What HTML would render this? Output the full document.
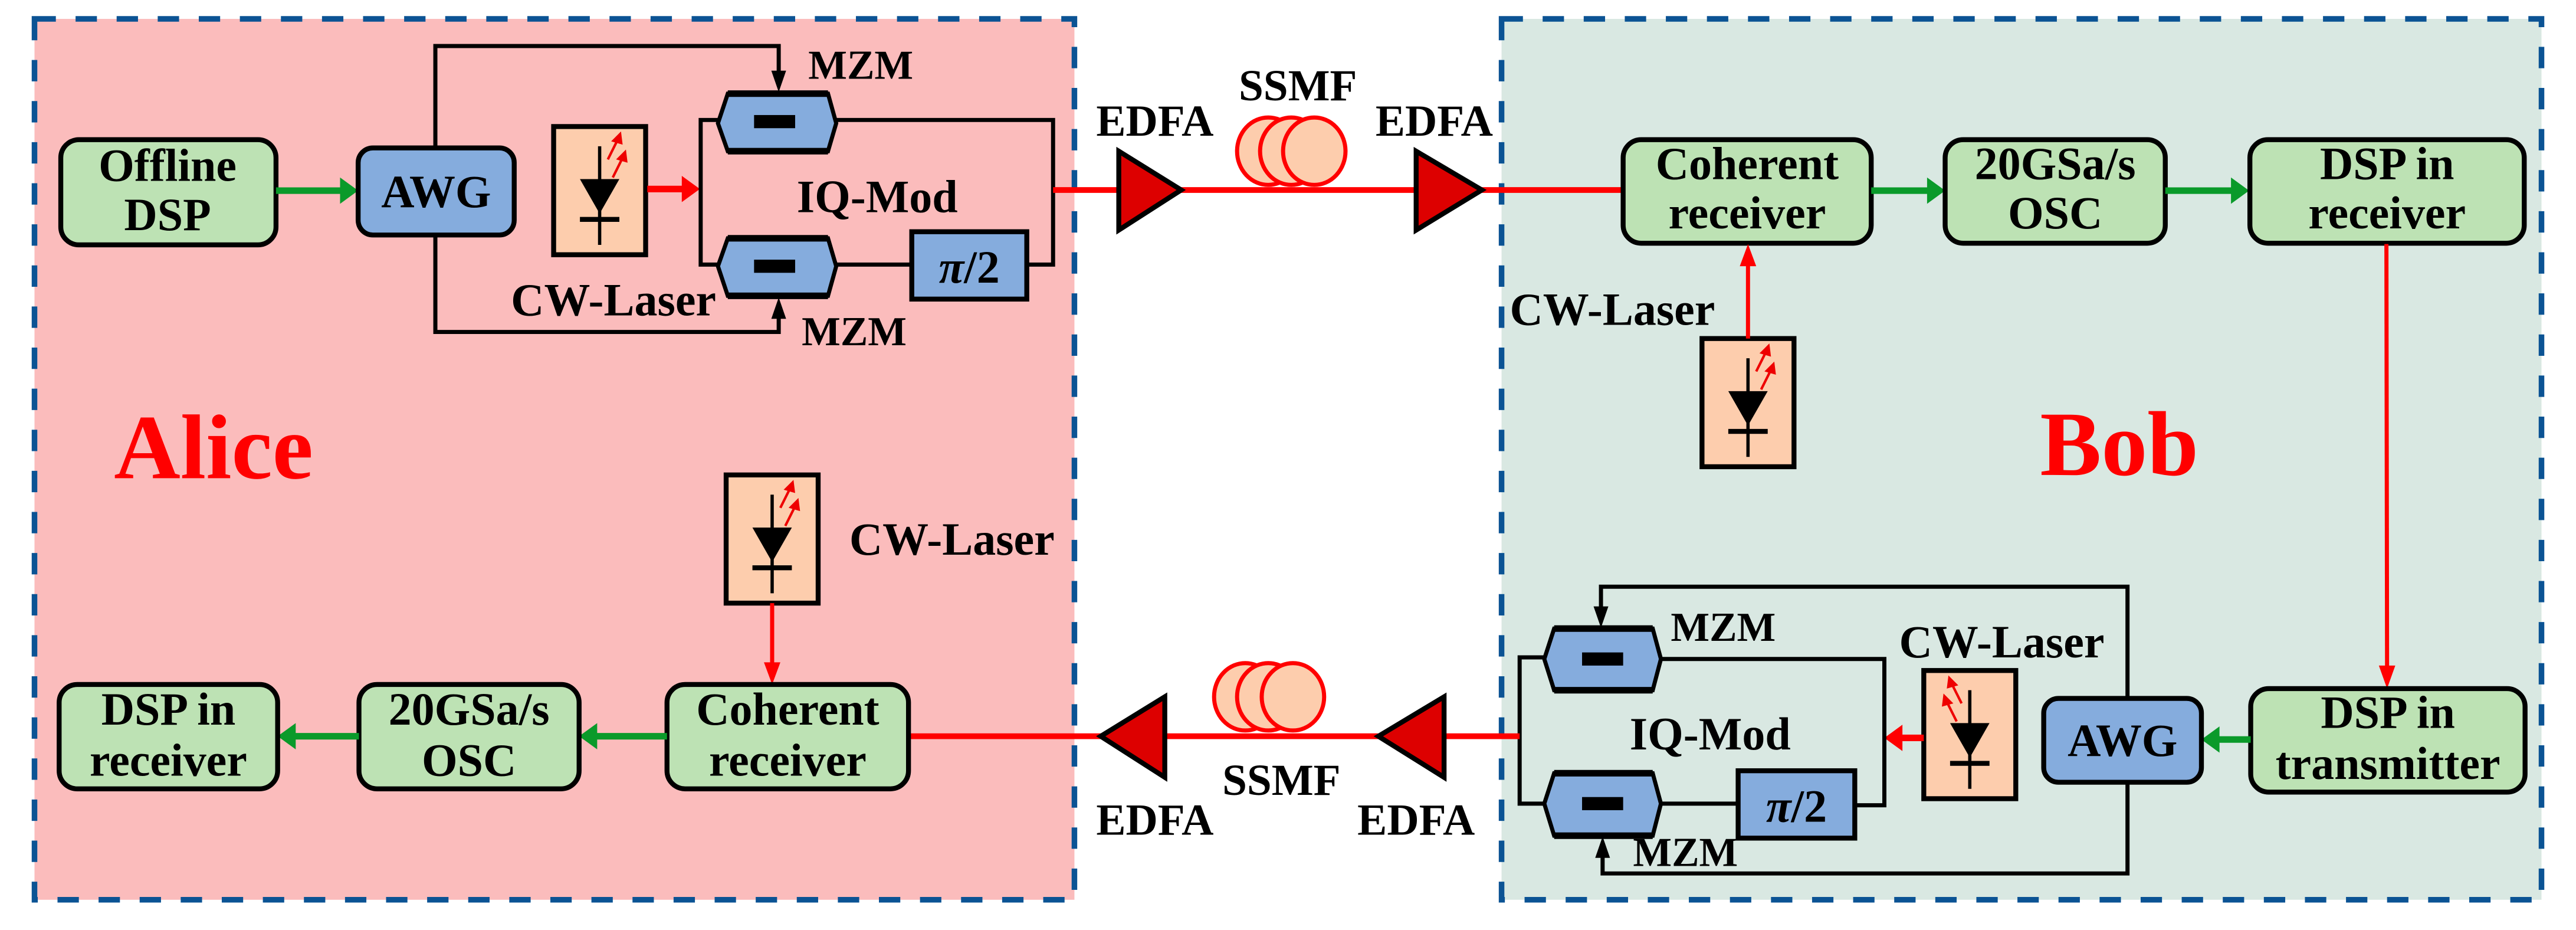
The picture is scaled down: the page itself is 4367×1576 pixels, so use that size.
<!DOCTYPE html>
<html><head><meta charset="utf-8"><style>
html,body{margin:0;padding:0;background:#fff;}
svg{display:block;}
text{font-family:"Liberation Serif",serif;font-weight:bold;}
</style></head><body>
<svg width="4367" height="1576" viewBox="0 0 1568 565.9" preserveAspectRatio="none" xmlns="http://www.w3.org/2000/svg">
<defs>
<g id="laser">
<rect x="0" y="0" width="56" height="78" fill="#fdcdad" stroke="#000" stroke-width="3"/>
<line x1="28" y1="12" x2="28" y2="72" stroke="#000" stroke-width="2"/>
<polygon points="16,32 40,32 28,53" fill="#000"/>
<rect x="16" y="55" width="24" height="3" fill="#000"/>
<line x1="33" y1="20" x2="39" y2="8" stroke="#e00" stroke-width="1.5"/>
<polygon points="41,3 35,9 42,11" fill="#e00"/>
<line x1="36" y1="31" x2="42" y2="19" stroke="#e00" stroke-width="1.5"/>
<polygon points="44,14 38,20 45,22" fill="#e00"/>
</g>
</defs>
<rect width="1568" height="566" fill="#fff"/>
<!-- Alice & Bob regions -->
<rect x="21" y="11.5" width="633" height="536" fill="#fbbcbc" stroke="#0b5394" stroke-width="3.4" stroke-dasharray="13,12"/>
<rect x="914" y="11.5" width="633" height="536" fill="#d9e8e2" stroke="#0b5394" stroke-width="3.4" stroke-dasharray="13,12"/>

<text x="130" y="291" font-size="56" fill="#f00" text-anchor="middle">Alice</text>
<text x="1290" y="289" font-size="56" fill="#f00" text-anchor="middle">Bob</text>

<!-- ===== Alice top ===== -->
<rect x="37" y="85" width="131" height="64" rx="11" fill="#bde2b4" stroke="#000" stroke-width="3"/>
<text x="102" y="110" font-size="28" text-anchor="middle">Offline</text>
<text x="102" y="140" font-size="28" text-anchor="middle">DSP</text>
<line x1="168" y1="116" x2="209" y2="116" stroke="#0a9a2a" stroke-width="4"/>
<polygon points="218,116 207,108 207,124" fill="#0a9a2a"/>
<rect x="218" y="90" width="95" height="53" rx="9" fill="#85acdd" stroke="#000" stroke-width="3"/>
<text x="265.5" y="126" font-size="28" text-anchor="middle">AWG</text>
<!-- AWG lines -->
<polyline points="265,90 265,28 474,28 474,45" fill="none" stroke="#000" stroke-width="2.5"/>
<polygon points="474,56 469.5,43 478.5,43" fill="#000"/>
<polyline points="265,143 265,202 474,202 474,192" fill="none" stroke="#000" stroke-width="2.5"/>
<polygon points="474,181 469.5,194 478.5,194" fill="#000"/>
<use href="#laser" x="337" y="77"/>
<line x1="394" y1="115" x2="416" y2="115" stroke="#f00" stroke-width="4"/>
<polygon points="426,115 415,107 415,123" fill="#f00"/>
<!-- IQ modulator -->
<polyline points="437,73 426.5,73 426.5,161 437,161" fill="none" stroke="#000" stroke-width="2.5"/>
<polyline points="509,73 641,73 641,161 625,161" fill="none" stroke="#000" stroke-width="2.5"/>
<line x1="509" y1="161" x2="555" y2="161" stroke="#000" stroke-width="2.5"/>
<polygon points="443,57 504,57 509,75 504,92 443,92 437,75" fill="#85acdd" stroke="#000" stroke-width="2.5"/>
<line x1="443" y1="57" x2="504" y2="57" stroke="#000" stroke-width="4"/><line x1="443" y1="92" x2="504" y2="92" stroke="#000" stroke-width="4"/>
<rect x="459" y="70" width="25" height="8" fill="#000"/>
<polygon points="443,145 504,145 509,162 504,180 443,180 437,162" fill="#85acdd" stroke="#000" stroke-width="2.5"/>
<line x1="443" y1="145" x2="504" y2="145" stroke="#000" stroke-width="4"/><line x1="443" y1="180" x2="504" y2="180" stroke="#000" stroke-width="4"/>
<rect x="459" y="158" width="25" height="8" fill="#000"/>
<rect x="555" y="141" width="70" height="41" fill="#85acdd" stroke="#000" stroke-width="3"/>
<text x="590" y="172" font-size="28" text-anchor="middle"><tspan font-style="italic">π</tspan>/2</text>
<text x="492" y="48" font-size="25">MZM</text>
<text x="488" y="210" font-size="25">MZM</text>
<text x="485" y="129" font-size="28">IQ-Mod</text>
<text x="311" y="192" font-size="28">CW-Laser</text>

<!-- top link -->
<line x1="641" y1="115.6" x2="681" y2="115.6" stroke="#f00" stroke-width="3.5"/>
<line x1="719" y1="115.6" x2="862" y2="115.6" stroke="#f00" stroke-width="3.5"/>
<line x1="902" y1="115.6" x2="988" y2="115.6" stroke="#f00" stroke-width="3.5"/>
<polygon points="681,92 719,115.6 681,140" fill="#dd0000" stroke="#000" stroke-width="3"/>
<polygon points="862,92 902,115.6 862,140" fill="#dd0000" stroke="#000" stroke-width="3"/>
<ellipse cx="772" cy="92" rx="19" ry="20.5" fill="#fdcdad" stroke="#f00" stroke-width="2.5"/>
<ellipse cx="786" cy="92" rx="19" ry="20.5" fill="#fdcdad" stroke="#f00" stroke-width="2.5"/>
<ellipse cx="800" cy="92" rx="19" ry="20.5" fill="#fdcdad" stroke="#f00" stroke-width="2.5"/>
<text x="703" y="82.6" font-size="27" text-anchor="middle">EDFA</text>
<text x="790" y="61" font-size="27" text-anchor="middle">SSMF</text>
<text x="873" y="82.6" font-size="27" text-anchor="middle">EDFA</text>

<!-- ===== Bob top ===== -->
<rect x="988" y="85" width="151" height="63" rx="11" fill="#bde2b4" stroke="#000" stroke-width="3"/>
<text x="1063.5" y="109" font-size="28" text-anchor="middle">Coherent</text>
<text x="1063.5" y="139" font-size="28" text-anchor="middle">receiver</text>
<line x1="1139" y1="116" x2="1174" y2="116" stroke="#0a9a2a" stroke-width="4"/>
<polygon points="1184,116 1173,108 1173,124" fill="#0a9a2a"/>
<rect x="1184" y="85" width="134" height="63" rx="11" fill="#bde2b4" stroke="#000" stroke-width="3"/>
<text x="1251" y="109" font-size="28" text-anchor="middle">20GSa/s</text>
<text x="1251" y="139" font-size="28" text-anchor="middle">OSC</text>
<line x1="1318" y1="116" x2="1359" y2="116" stroke="#0a9a2a" stroke-width="4"/>
<polygon points="1369,116 1358,108 1358,124" fill="#0a9a2a"/>
<rect x="1369.5" y="85" width="167" height="63" rx="11" fill="#bde2b4" stroke="#000" stroke-width="3"/>
<text x="1453" y="109" font-size="28" text-anchor="middle">DSP in</text>
<text x="1453" y="139" font-size="28" text-anchor="middle">receiver</text>
<use href="#laser" x="1036" y="206"/>
<line x1="1064" y1="206" x2="1064" y2="160" stroke="#f00" stroke-width="2.5"/>
<polygon points="1064,148.5 1059,162 1069,162" fill="#f00"/>
<text x="919" y="197.6" font-size="28">CW-Laser</text>
<line x1="1452.6" y1="148.5" x2="1453" y2="407" stroke="#f00" stroke-width="2.5"/>
<polygon points="1453,419 1448,405 1458,405" fill="#f00"/>

<!-- ===== Bob bottom ===== -->
<rect x="1370" y="419" width="167" height="63" rx="11" fill="#bde2b4" stroke="#000" stroke-width="3"/>
<text x="1453.5" y="443" font-size="28" text-anchor="middle">DSP in</text>
<text x="1453.5" y="474" font-size="28" text-anchor="middle">transmitter</text>
<line x1="1370" y1="450" x2="1349" y2="450" stroke="#0a9a2a" stroke-width="4"/>
<polygon points="1340,450 1351,442 1351,458" fill="#0a9a2a"/>
<rect x="1244" y="425" width="96" height="51" rx="9" fill="#85acdd" stroke="#000" stroke-width="3"/>
<text x="1292" y="460" font-size="28" text-anchor="middle">AWG</text>
<polyline points="1295,425 1295,357 974.5,357 974.5,371" fill="none" stroke="#000" stroke-width="2.5"/>
<polygon points="974.5,382 970,369 979,369" fill="#000"/>
<polyline points="1295,476 1295,531.5 975.5,531.5 975.5,520" fill="none" stroke="#000" stroke-width="2.5"/>
<polygon points="975.5,509 971,522 980,522" fill="#000"/>
<use href="#laser" transform="translate(1227,408) scale(-1,1)"/>
<line x1="1171" y1="449" x2="1157" y2="449" stroke="#f00" stroke-width="4"/>
<polygon points="1147,449 1158,441 1158,457" fill="#f00"/>
<polyline points="940,400 925,400 925,489 940,489" fill="none" stroke="#000" stroke-width="2.5"/>
<polyline points="1011,401 1147,401 1147,490 1129,490" fill="none" stroke="#000" stroke-width="2.5"/>
<line x1="1011" y1="489" x2="1058" y2="489" stroke="#000" stroke-width="2.5"/>
<polygon points="946,382.5 1006,382.5 1011,401 1006,420 946,420 940,401" fill="#85acdd" stroke="#000" stroke-width="2.5"/>
<line x1="946" y1="382.5" x2="1006" y2="382.5" stroke="#000" stroke-width="4"/><line x1="946" y1="420" x2="1006" y2="420" stroke="#000" stroke-width="4"/>
<rect x="963" y="397" width="25" height="8" fill="#000"/>
<polygon points="946,470.5 1006,470.5 1011,489 1006,508.5 946,508.5 940,489" fill="#85acdd" stroke="#000" stroke-width="2.5"/>
<line x1="946" y1="470.5" x2="1006" y2="470.5" stroke="#000" stroke-width="4"/><line x1="946" y1="508.5" x2="1006" y2="508.5" stroke="#000" stroke-width="4"/>
<rect x="963" y="485" width="25" height="8" fill="#000"/>
<rect x="1058" y="469" width="71" height="41" fill="#85acdd" stroke="#000" stroke-width="3"/>
<text x="1093.5" y="500" font-size="28" text-anchor="middle"><tspan font-style="italic">π</tspan>/2</text>
<text x="1017" y="390" font-size="25">MZM</text>
<text x="994" y="527" font-size="25">MZM</text>
<text x="992" y="456" font-size="28">IQ-Mod</text>
<text x="1156" y="400" font-size="28">CW-Laser</text>

<!-- bottom link -->
<line x1="925" y1="448" x2="879" y2="448" stroke="#f00" stroke-width="3.5"/>
<line x1="839" y1="448" x2="709" y2="448" stroke="#f00" stroke-width="3.5"/>
<line x1="670" y1="448" x2="553" y2="448" stroke="#f00" stroke-width="3.5"/>
<polygon points="879,424 839,448 879,473" fill="#dd0000" stroke="#000" stroke-width="3"/>
<polygon points="709,424 670,448 709,473" fill="#dd0000" stroke="#000" stroke-width="3"/>
<ellipse cx="758" cy="424" rx="19" ry="20.5" fill="#fdcdad" stroke="#f00" stroke-width="2.5"/>
<ellipse cx="772" cy="424" rx="19" ry="20.5" fill="#fdcdad" stroke="#f00" stroke-width="2.5"/>
<ellipse cx="787" cy="424" rx="19" ry="20.5" fill="#fdcdad" stroke="#f00" stroke-width="2.5"/>
<text x="703" y="508" font-size="27" text-anchor="middle">EDFA</text>
<text x="780" y="483.6" font-size="27" text-anchor="middle">SSMF</text>
<text x="862" y="508" font-size="27" text-anchor="middle">EDFA</text>

<!-- ===== Alice bottom ===== -->
<use href="#laser" x="442" y="289"/>
<line x1="470" y1="367" x2="470" y2="405" stroke="#f00" stroke-width="2.5"/>
<polygon points="470,416.5 465,403 475,403" fill="#f00"/>
<text x="517" y="337.6" font-size="28">CW-Laser</text>
<rect x="406" y="416.5" width="147" height="63.5" rx="11" fill="#bde2b4" stroke="#000" stroke-width="3"/>
<text x="479.5" y="441" font-size="28" text-anchor="middle">Coherent</text>
<text x="479.5" y="472" font-size="28" text-anchor="middle">receiver</text>
<line x1="406" y1="448" x2="362" y2="448" stroke="#0a9a2a" stroke-width="4"/>
<polygon points="352.5,448 363.5,440 363.5,456" fill="#0a9a2a"/>
<rect x="218.5" y="416.5" width="134" height="63.5" rx="11" fill="#bde2b4" stroke="#000" stroke-width="3"/>
<text x="285.5" y="441" font-size="28" text-anchor="middle">20GSa/s</text>
<text x="285.5" y="472" font-size="28" text-anchor="middle">OSC</text>
<line x1="218.5" y1="448" x2="179" y2="448" stroke="#0a9a2a" stroke-width="4"/>
<polygon points="169,448 180,440 180,456" fill="#0a9a2a"/>
<rect x="36" y="416.5" width="133" height="63.5" rx="11" fill="#bde2b4" stroke="#000" stroke-width="3"/>
<text x="102.5" y="441" font-size="28" text-anchor="middle">DSP in</text>
<text x="102.5" y="472" font-size="28" text-anchor="middle">receiver</text>
</svg>
</body></html>
